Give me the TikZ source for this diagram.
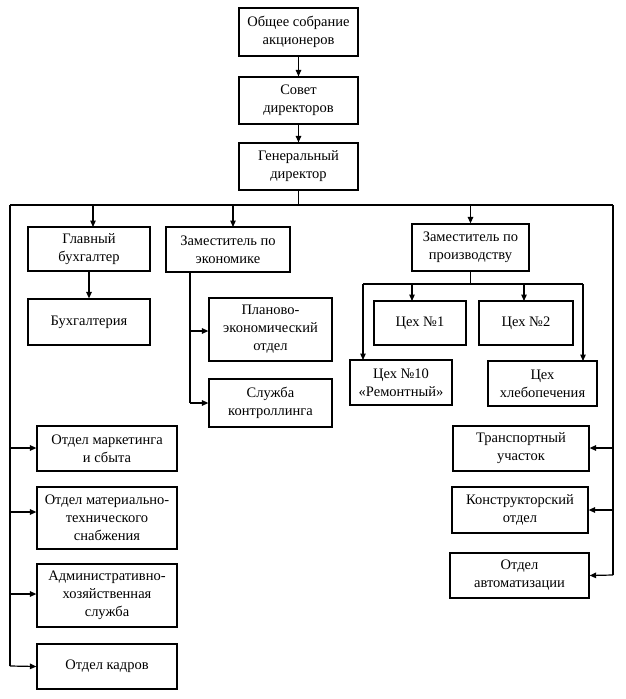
\documentclass[tikz,border=0pt]{standalone}
\usepackage{fontspec}
\setmainfont{Liberation Serif}
\usetikzlibrary{arrows.meta}
\tikzset{
  box/.style={draw, line width=1.2pt, align=center, inner sep=1pt, font=\fontsize{14.5}{18}\selectfont},
  arr/.style={line width=1.2pt, -{Triangle[length=6.5pt,width=5.5pt]}},
  ln/.style={line width=1.2pt}
}
\newcommand{\bx}[7]{\node[box, minimum width=#4-#3, minimum height=#6-#5] (#1) at ({(#3+#4)/2},{(#5+#6)/2}) {#7};}
\begin{document}
\begin{tikzpicture}[x=1pt,y=-1pt]
\useasboundingbox (0,0) rectangle (626,699);
\bx{ob}{}{239}{358}{8}{56}{Общее собрание\\акционеров}
\bx{sd}{}{239}{358}{77}{124}{Совет\\директоров}
\bx{gd}{}{239}{358}{143}{190}{Генеральный\\директор}
\bx{gb}{}{28}{150}{227}{271}{Главный\\бухгалтер}
\bx{ze}{}{166}{290}{227}{272}{Заместитель по\\экономике}
\bx{bu}{}{28}{150}{299}{345}{Бухгалтерия}
\bx{pl}{}{209}{332}{298}{361}{Планово-\\экономический\\отдел}
\bx{sk}{}{209}{332}{379}{427}{Служба\\контроллинга}
\bx{zp}{}{412}{529}{224}{271}{Заместитель по\\производству}
\bx{c1}{}{374}{466}{301}{345}{Цех №1}
\bx{c2}{}{479}{573}{301}{345}{Цех №2}
\bx{c10}{}{350}{452}{360}{405}{Цех №10\\«Ремонтный»}
\bx{ch}{}{488}{597}{361}{406}{Цех\\хлебопечения}
\bx{om}{}{37}{177}{426}{471}{Отдел маркетинга\\и сбыта}
\bx{mt}{}{37}{177}{487}{549}{Отдел материально-\\технического\\снабжения}
\bx{ah}{}{37}{177}{564}{627}{Административно-\\хозяйственная\\служба}
\bx{ok}{}{37}{177}{644}{689}{Отдел кадров}
\bx{tu}{}{453}{589}{426}{471}{Транспортный\\участок}
\bx{ko}{}{452}{588}{487}{533}{Конструкторский\\отдел}
\bx{oa}{}{450}{589}{553}{598}{Отдел\\автоматизации}
% bus
\coordinate (L) at (10,205);
\coordinate (R) at (613,205);
\draw[arr] (ob) -- (sd);
\draw[arr] (sd) -- (gd);
\draw[ln] (gd.south) -- (gd.south |- L);
\draw[ln] (L) -- (R);
\draw[arr] (93,205) -- (93,227);
\draw[arr] (233,205) -- (233,227);
\draw[arr] (zp.north |- L) -- (zp.north);
\draw[arr] (gb) -- (bu);
% economics
\coordinate (ev) at (190,272);
\draw[ln] (ev) -- (190,403);
\draw[arr] (190,331) -- (pl.west |- 0,331);
\draw[arr] (190,403) -- (sk.west);
% production
\coordinate (pv) at (zp.south |- 0,284);
\draw[ln] (zp.south) -- (pv);
\draw[ln] (363,284) -- (583,284);
\draw[arr] (412,284) -- (412,301);
\draw[arr] (524,284) -- (524,301);
\draw[arr] (363,284) -- (363,360);
\draw[arr] (583,284) -- (583,361);
% left
\draw[ln] (L) -- (10,666);
\draw[arr] (10,448) -- (om.west |- 0,448);
\draw[arr] (10,512) -- (mt.west |- 0,512);
\draw[arr] (10,594) -- (ah.west |- 0,594);
\draw[arr] (10,666) -- (ok.west);
% right
\draw[ln] (R) -- (613,575);
\draw[arr] (613,448) -- (tu.east |- 0,448);
\draw[arr] (613,510) -- (ko.east);
\draw[arr] (613,575) -- (oa.east);
\end{tikzpicture}
\end{document}
